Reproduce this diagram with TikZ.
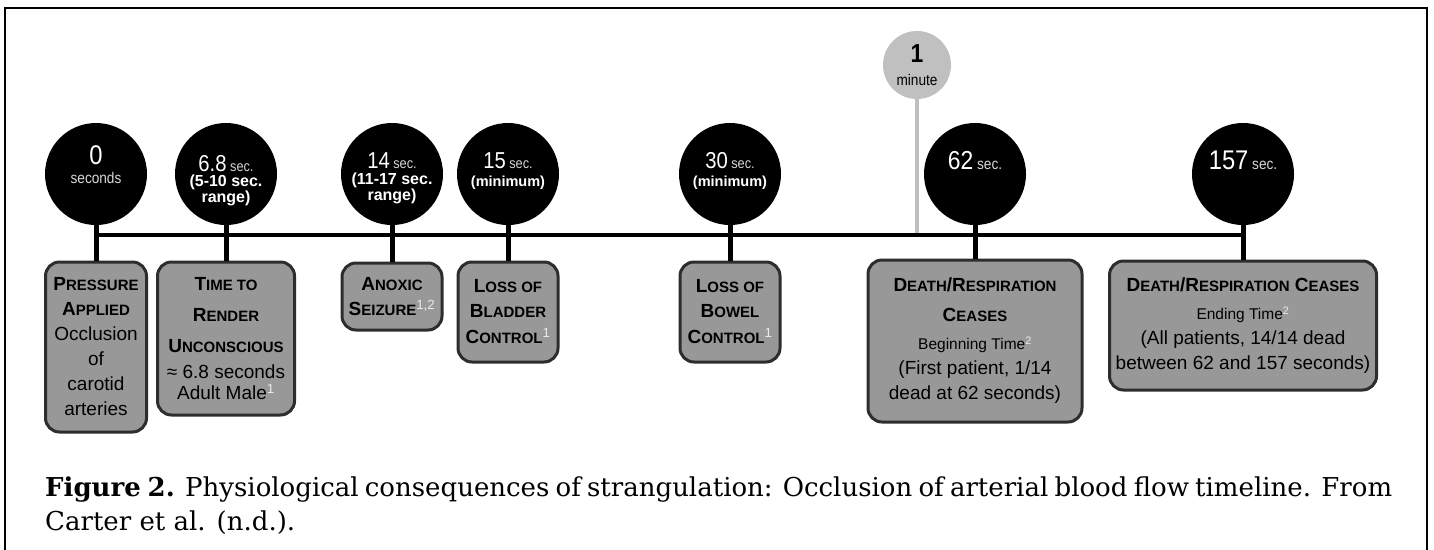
\documentclass[tikz,border=0pt]{standalone}
\usepackage{fontspec}
\setmainfont{Liberation Sans}
\newfontfamily\narrowfont{Liberation Sans}[FakeStretch=0.88]
\newfontfamily\capfont{DejaVu Serif}
\definecolor{boxgray}{RGB}{152,152,152}
\definecolor{boxline}{RGB}{45,45,45}
\definecolor{mingray}{RGB}{192,192,192}
\definecolor{secgray}{RGB}{215,215,215}
\newcommand\SC[2]{{\fontsize{19}{26}\selectfont #1}{\fontsize{15}{26}\selectfont #2}}
\newcommand\supr[1]{\textsuperscript{\normalfont\color{white!92!black}#1}}
\tikzset{
  tbox/.style={draw=boxline, line width=3pt, fill=boxgray, rounded corners=14pt,
    inner sep=0pt, align=center, font=\fontsize{19}{25}\selectfont},
  tcirc/.style={circle, fill=black, minimum size=102pt, inner sep=0pt},
  ctext/.style={text=white, inner sep=0pt, anchor=base},
  big/.style={font=\narrowfont\fontsize{23}{24}\selectfont},
  rng/.style={font=\bfseries\fontsize{16}{17}\selectfont},
  stem/.style={line width=5pt, draw=black},
  tline/.style={line width=4pt, draw=black},
  gstem/.style={line width=4.5pt, draw=mingray},
  frame/.style={line width=2pt, draw=black}
}
\newcommand\sect{{\narrowfont\color{secgray}\fontsize{14.5}{18}\selectfont\ sec.}}
\begin{document}
\begin{tikzpicture}[x=1pt,y=-1pt]
\useasboundingbox (0,0) rectangle (1434,549);
\draw[frame] (5,560) -- (5,8) -- (1427,8) -- (1427,560);

% one-minute marker
\node[circle, fill=mingray, minimum size=68pt, inner sep=0pt] (m) at (917,65) {};
\coordinate (tm) at (917,235);
\draw[gstem] (m) -- (tm);
\node[inner sep=0pt, anchor=base, font=\narrowfont\bfseries\fontsize{26}{26}\selectfont] (mt1) at (917,62) {1};
\node[inner sep=0pt, anchor=base, font=\narrowfont\fontsize{15.5}{16}\selectfont] (mt2) at (917,85) {minute};

% timeline
\coordinate (t0) at (96,235);
\coordinate (t1) at (1243,235);
\draw[tline] (t0) -- (t1);

% circles
\node[tcirc] (c0) at (96,174) {};
\node[tcirc] (c1) at (226,174) {};
\node[tcirc] (c2) at (392,174) {};
\node[tcirc] (c3) at (508,174) {};
\node[tcirc] (c4) at (730,174) {};
\node[tcirc] (c5) at (975,174) {};
\node[tcirc] (c6) at (1243,174) {};

% boxes
\node[tbox, minimum width=101pt, minimum height=170pt] (b0) at (96,347)
  {\bfseries\SC{P}{RESSURE}\\\bfseries\SC{A}{PPLIED}\\Occlusion\\of\\carotid\\arteries};
\node[tbox, minimum width=137pt, minimum height=153pt] (b1) at (226,338.5)
  {\bfseries\SC{T}{IME TO}\\[6pt]\bfseries\SC{R}{ENDER}\\[6pt]\bfseries\SC{U}{NCONSCIOUS}\\[1pt]≈ 6.8 seconds\\[-4pt]Adult Male\supr{1}};
\node[tbox, minimum width=100pt, minimum height=67pt] (b2) at (392,296.5)
  {\bfseries\SC{A}{NOXIC}\\\bfseries\SC{S}{EIZURE}\supr{1,2}};
\node[tbox, minimum width=100pt, minimum height=100pt] (b3) at (508,312)
  {\bfseries\SC{L}{OSS OF}\\\bfseries\SC{B}{LADDER}\\[1pt]\bfseries\SC{C}{ONTROL}\supr{1}};
\node[tbox, minimum width=100pt, minimum height=100pt] (b4) at (730,312)
  {\bfseries\SC{L}{OSS OF}\\\bfseries\SC{B}{OWEL}\\[1pt]\bfseries\SC{C}{ONTROL}\supr{1}};
\node[tbox, minimum width=214pt, minimum height=162pt] (b5) at (975,341)
  {\bfseries\SC{D}{EATH}/\SC{R}{ESPIRATION}\\[5pt]\bfseries\SC{C}{EASES}\\[3pt]{\fontsize{15.5}{25}\selectfont Beginning Time\supr{2}}\\(First patient, 1/14\\dead at 62 seconds)};
\node[tbox, minimum width=267pt, minimum height=129pt] (b6) at (1243,325.5)
  {\bfseries\SC{D}{EATH}/\SC{R}{ESPIRATION} \SC{C}{EASES}\\[3pt]{\fontsize{15.5}{25}\selectfont Ending Time\supr{2}}\\(All patients, 14/14 dead\\between 62 and 157 seconds)};

% stems
\foreach \i in {0,...,6} { \draw[stem] (c\i) -- (b\i); }

% circle texts
\node[ctext, font=\narrowfont\fontsize{27}{28}\selectfont] (c0a) at (96,164) {0};
\node[ctext, font=\narrowfont\fontsize{15.5}{16}\selectfont, text=secgray] (c0b) at (96,183) {seconds};

\node[ctext, big] (c1a) at (226,171) {6.8\sect};
\node[ctext, rng] (c1b) at (226,186.5) {(5-10 sec.};
\node[ctext, rng] (c1c) at (226,202) {range)};

\node[ctext, big] (c2a) at (392,168) {14\sect};
\node[ctext, rng] (c2b) at (392,184.5) {(11-17 sec.};
\node[ctext, rng] (c2c) at (392,200.5) {range)};

\node[ctext, big] (c3a) at (508,168) {15\sect};
\node[ctext, font=\bfseries\fontsize{14.5}{16}\selectfont] (c3b) at (508,186) {(minimum)};

\node[ctext, big] (c4a) at (730,168) {30\sect};
\node[ctext, font=\bfseries\fontsize{14.5}{16}\selectfont] (c4b) at (730,186) {(minimum)};

\node[ctext, font=\narrowfont\fontsize{26}{28}\selectfont] (c5a) at (975,169) {62{\narrowfont\color{secgray}\fontsize{15.5}{18}\selectfont\ sec.}};
\node[ctext, font=\narrowfont\fontsize{27}{28}\selectfont] (c6a) at (1243,169.5) {157{\narrowfont\color{secgray}\fontsize{15.5}{18}\selectfont\ sec.}};

% caption
\node[anchor=west, inner sep=0pt] (cap1) at (45,490)
  {\capfont\fontsize{26}{30}\selectfont\makebox[1347pt][s]{\textbf{Figure 2.} Physiological consequences of strangulation: Occlusion of arterial blood flow timeline. From}};
\node[anchor=west, inner sep=0pt] (cap2) at (45,523)
  {\capfont\fontsize{26}{30}\selectfont Carter et al. (n.d.).};
\end{tikzpicture}
\end{document}
